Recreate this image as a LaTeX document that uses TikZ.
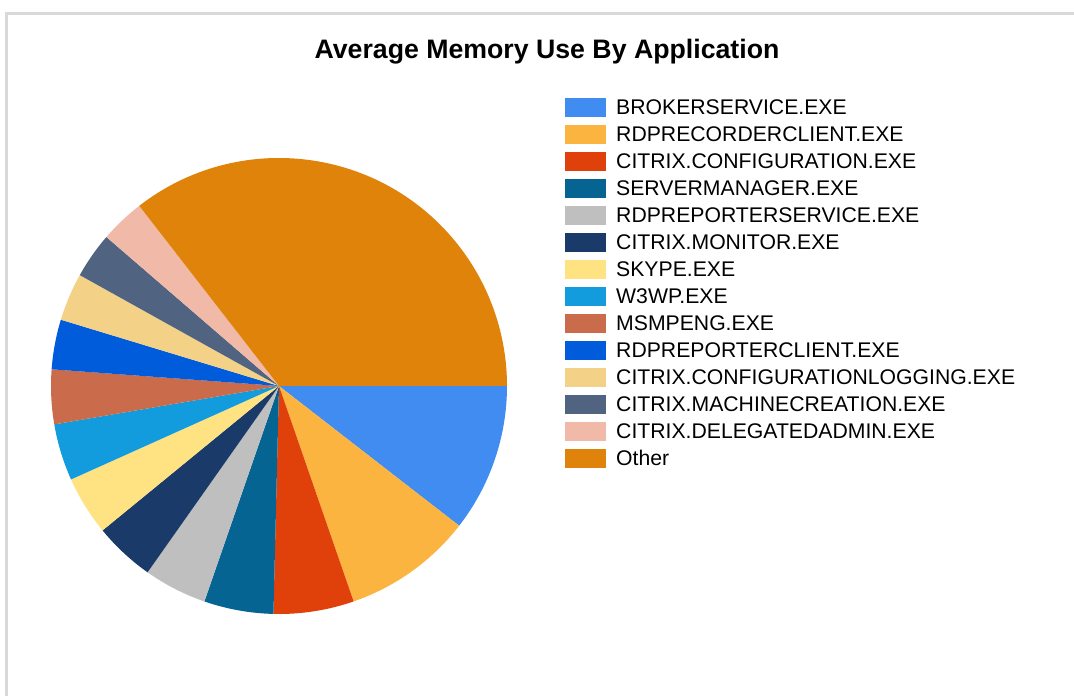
\documentclass[tikz,border=0pt]{standalone}
\usepackage{fontspec}
\setmainfont{Liberation Sans}
\definecolor{c1}{HTML}{418CF0}
\definecolor{c2}{HTML}{FCB441}
\definecolor{c3}{HTML}{E0400A}
\definecolor{c4}{HTML}{056492}
\definecolor{c5}{HTML}{BFBFBF}
\definecolor{c6}{HTML}{1A3B69}
\definecolor{c7}{HTML}{FFE382}
\definecolor{c8}{HTML}{129CDD}
\definecolor{c9}{HTML}{CA6B4B}
\definecolor{c10}{HTML}{005CDB}
\definecolor{c11}{HTML}{F3D288}
\definecolor{c12}{HTML}{506381}
\definecolor{c13}{HTML}{F1B9A8}
\definecolor{c14}{HTML}{E0830A}
\definecolor{framegray}{HTML}{D9D9D9}
\begin{document}
\begin{tikzpicture}[x=1pt,y=1pt,
  swatch/.style={draw=none, inner sep=0pt, minimum width=40.5pt, minimum height=19pt},
  legtext/.style={anchor=base west, inner sep=0pt, font=\fontsize{21.2}{25}\selectfont},
  titletext/.style={anchor=base, inner sep=0pt, font=\bfseries\fontsize{26.7}{31}\selectfont},
  frameline/.style={draw=framegray, line width=2.7pt}]
\useasboundingbox (0,0) rectangle (1074,696);
\fill[white] (0,0) rectangle (1074,696);
\draw[frameline] (6.7,0) -- (6.7,682.5) -- (1074,682.5);
\node[titletext] (title) at (547,637.7) {Average Memory Use By Application};
\coordinate (c) at (279,310);
\foreach \a/\b/\col in {0/37.8/c1, 37.8/70.9/c2, 70.9/91.4/c3, 91.4/109.1/c4, 109.1/125.2/c5, 125.2/140.7/c6, 140.7/155.8/c7, 155.8/170.3/c8, 170.3/184.2/c9, 184.2/196.9/c10, 196.9/209.1/c11, 209.1/220.8/c12, 220.8/232.2/c13, 232.2/360/c14}
  \fill[\col] (c) -- +(-\a:228) arc[start angle=-\a, end angle=-\b, radius=228] -- cycle;
\foreach \i/\col/\txt in {0/c1/BROKERSERVICE.EXE, 1/c2/RDPRECORDERCLIENT.EXE, 2/c3/CITRIX.CONFIGURATION.EXE, 3/c4/SERVERMANAGER.EXE, 4/c5/RDPREPORTERSERVICE.EXE, 5/c6/CITRIX.MONITOR.EXE, 6/c7/SKYPE.EXE, 7/c8/W3WP.EXE, 8/c9/MSMPENG.EXE, 9/c10/RDPREPORTERCLIENT.EXE, 10/c11/CITRIX.CONFIGURATIONLOGGING.EXE, 11/c12/CITRIX.MACHINECREATION.EXE, 12/c13/CITRIX.DELEGATEDADMIN.EXE, 13/c14/Other} {
  \node[swatch, fill=\col] (s\i) at (585.3, 696-107.2-27*\i) {};
  \node[legtext] (t\i) at (616, 696-114.3-27*\i) {\txt};
}
\end{tikzpicture}
\end{document}
